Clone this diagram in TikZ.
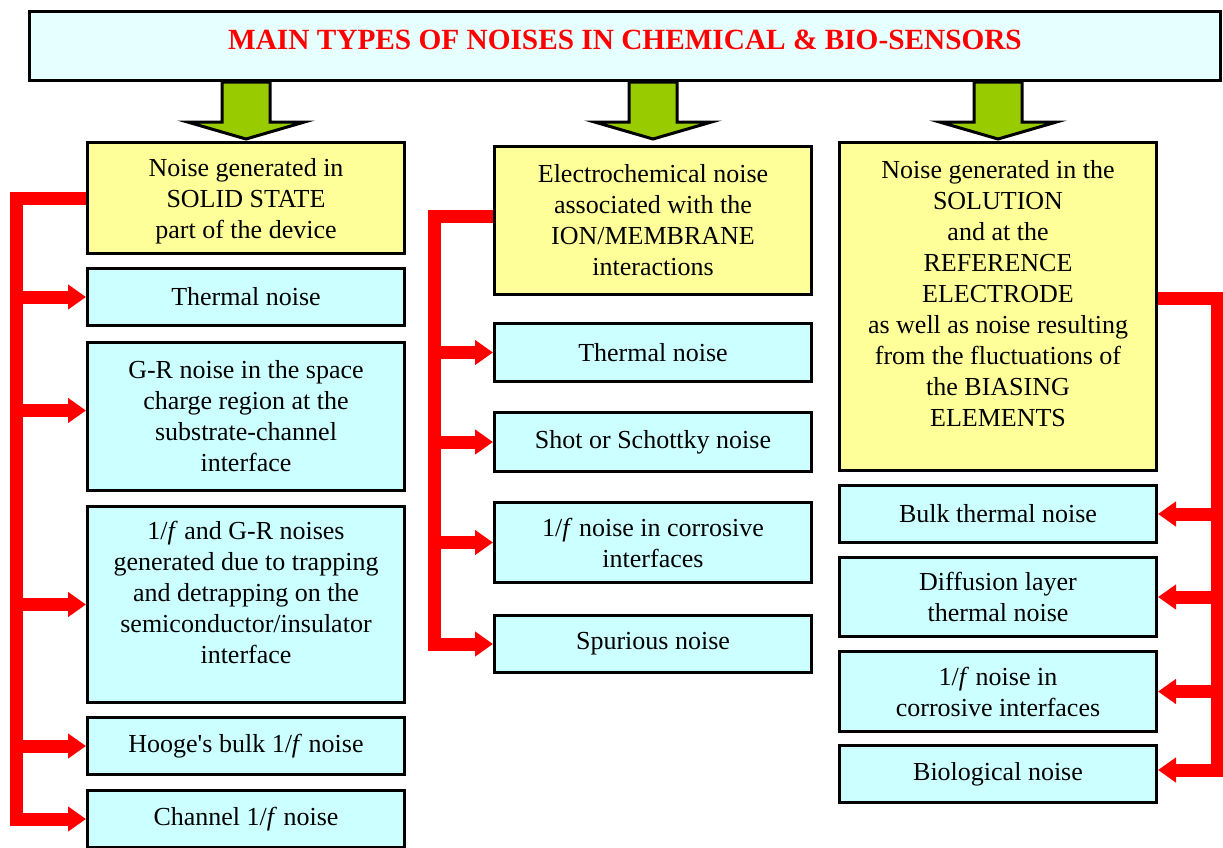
\documentclass[tikz,border=0pt]{standalone}
\usepackage{fontspec}
\setmainfont{Liberation Serif}
\usetikzlibrary{arrows.meta,calc}

\definecolor{titlefill}{HTML}{E6FFFF}
\definecolor{noisefill}{HTML}{CCFFFF}
\definecolor{headfill}{HTML}{FFFF99}
\definecolor{arrowgreen}{HTML}{99CC00}
\definecolor{busred}{HTML}{FF0000}

\tikzset{
  box/.style={draw=black, line width=3pt, minimum width=317pt, align=center, inner sep=2pt,
    font=\fontsize{26}{31}\selectfont},
  headbox/.style={box, fill=headfill},
  noisebox/.style={box, fill=noisefill},
  bus/.style={draw=busred, line width=13pt},
  branch/.style={bus, -{Triangle[length=18pt,width=24pt]}},
  blockarrow/.style={fill=arrowgreen, draw=black, line width=3pt, line join=miter},
}

\begin{document}
\begin{tikzpicture}[x=1pt,y=-1pt]
  \useasboundingbox (0,0) rectangle (1223,847);
  % title banner
  \node[box, fill=titlefill, minimum width=1191pt, minimum height=69pt, text depth=13pt,
    font=\fontsize{29.3}{34}\selectfont\bfseries, text=busred] (title) at (625,46)
    {MAIN TYPES OF NOISES IN CHEMICAL \& BIO-SENSORS};
  % column 1: solid state
  \node[headbox, minimum height=111pt, text depth=-4pt] (s1) at (246,198) {Noise generated in\\SOLID STATE\\part of the device};
  \node[noisebox, minimum height=57pt] (a1) at (246,297) {Thermal noise};
  \node[noisebox, minimum height=148pt] (a2) at (246,416.5) {G-R noise in the space\\charge region at the\\substrate-channel\\interface};
  \node[noisebox, minimum height=196pt, text depth=25pt] (a3) at (246,604.5) {1/\textit{f} and G-R noises\\generated due to trapping\\and detrapping on the\\semiconductor/insulator\\interface};
  \node[noisebox, minimum height=57pt] (a4) at (246,746) {Hooge\textquotesingle s bulk 1/\textit{f} noise};
  \node[noisebox, minimum height=57pt] (a5) at (246,819) {Channel 1/\textit{f} noise};
  % column 2: ion/membrane
  \node[headbox, minimum height=148pt] (s2) at (653,220.5) {Electrochemical noise\\associated with the\\ION/MEMBRANE\\interactions};
  \node[noisebox, minimum height=58pt] (b1) at (653,352.5) {Thermal noise};
  \node[noisebox, minimum height=59pt] (b2) at (653,442) {Shot or Schottky noise};
  \node[noisebox, minimum height=80pt] (b3) at (653,542.5) {1/\textit{f} noise in corrosive\\interfaces};
  \node[noisebox, minimum height=57pt] (b4) at (653,644) {Spurious noise};
  % column 3: solution and reference electrode
  \node[headbox, minimum height=328pt, text depth=27pt] (s3) at (998,306.5) {Noise generated in the\\SOLUTION\\and at the\\REFERENCE\\ELECTRODE\\as well as noise resulting\\from the fluctuations of\\the BIASING\\ELEMENTS};
  \node[noisebox, minimum height=57pt] (c1) at (998,514) {Bulk thermal noise};
  \node[noisebox, minimum height=79pt] (c2) at (998,597) {Diffusion layer\\thermal noise};
  \node[noisebox, minimum height=80pt] (c3) at (998,691.5) {1/\textit{f} noise in\\corrosive interfaces};
  \node[noisebox, minimum height=57pt] (c4) at (998,774) {Biological noise};
  % green arrows from the banner
  \foreach \col in {s1,s2,s3}
    \draw[blockarrow] ($(title.south -| \col.north)+(-24,0)$) -- ++(0,40) -- ++(-34.5,0)
      -- ($(title.south -| \col.north)+(0,57)$) -- ++(58.5,-17) -- ++(-34.5,0) -- ++(0,-40) -- cycle;
  % red buses
  \coordinate (bus1) at (16,0);
  \coordinate (bus2) at (434,0);
  \coordinate (bus3) at (1217,0);
  \draw[bus] (s1.west) -| ([yshift=-6.5pt]bus1 |- a5.west);
  \foreach \b in {a1,a3,a4,a5} \draw[branch] (bus1 |- \b.west) -- (\b.west);
  \draw[branch] ([yshift=6pt]bus1 |- a2.west) -- ([yshift=6pt]a2.west);
  \draw[bus] ([yshift=4pt]s2.west) -| ([yshift=-6.5pt]bus2 |- b4.west);
  \foreach \b in {b1,b2,b3,b4} \draw[branch] (bus2 |- \b.west) -- (\b.west);
  \draw[bus] ([yshift=8pt]s3.east) -| ([yshift=-2.5pt]bus3 |- c4.east);
  \foreach \b in {c1,c2,c3} \draw[branch] (bus3 |- \b.east) -- (\b.east);
  \draw[branch] ([yshift=4pt]bus3 |- c4.east) -- ([yshift=4pt]c4.east);
\end{tikzpicture}
\end{document}
